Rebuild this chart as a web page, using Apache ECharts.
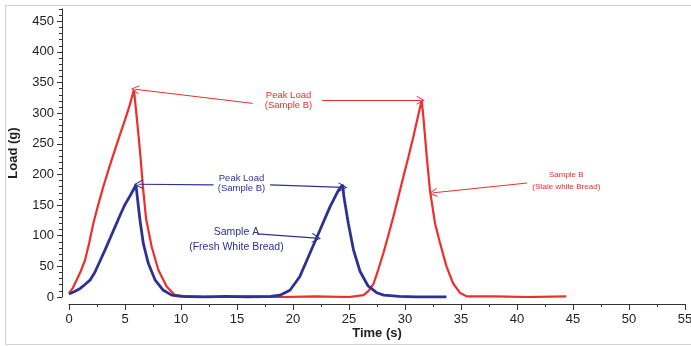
<!DOCTYPE html>
<html>
<head>
<meta charset="utf-8">
<script src="https://cdn.jsdelivr.net/npm/echarts@6/dist/echarts.min.js"></script>
<style>
  html, body { margin: 0; padding: 0; background: #fff; overflow: hidden; }
  #wrap { position: relative; width: 691px; height: 346px; }
  #chart { position: absolute; left: 0; top: 0; width: 691px; height: 346px; }
  #frame { position: absolute; left: 5px; top: 5px; width: 700px; height: 338px;
           border: 1px solid #d2d2d2; pointer-events: none; }
</style>
</head>
<body>
<div id="wrap">
  <div id="chart"></div>
  <div id="frame"></div>
</div>
<script>
// Sample A (fresh white bread)
const timeA = [0, 0.5, 1.0, 1.4, 1.9, 2.3, 2.8, 3.2, 3.7, 4.1, 4.6, 5.0, 5.45, 5.75, 5.98,
  6.1, 6.34, 6.64, 7.08, 7.68, 8.42, 9.17, 10.0, 12, 14, 16, 18, 18.84, 19.73, 20.6, 21.5,
  22.4, 23.3, 24.05, 24.43, 24.55, 24.94, 25.4, 25.98, 26.7, 27.47, 28.1, 29.5, 31, 33.7];
const loadA = [5, 9, 14, 20, 28, 40, 60, 76, 97, 114, 135, 151, 165, 175, 183,
  163, 125, 87, 55, 28, 11, 3, 1, 0, 1, 0, 1, 3, 11, 33, 71,
  109, 147, 174, 183, 163, 120, 77, 42, 18, 7, 3, 1, 0, 0];

// Sample B (stale white bread)
const timeB = [0, 0.35, 0.69, 1.05, 1.43, 1.8, 2.17, 2.6, 3.06, 3.6, 4.1, 4.55, 5.0, 5.4, 5.8,
  6.0, 6.2, 6.4, 6.6, 6.88, 7.38, 7.98, 8.72, 9.46, 10.5, 13, 16, 19, 22, 25, 26.3,
  26.75, 27.2, 27.6, 28.06, 28.5, 28.96, 29.4, 29.85, 30.3, 30.74, 31.1, 31.49, 31.64, 31.94,
  32.23, 32.68, 33.1, 33.7, 34.3, 34.9, 35.5, 38, 41, 44.4];
const loadB = [6, 15, 28, 42, 60, 88, 120, 150, 180, 212, 240, 265, 289, 312, 338,
  302, 265, 225, 180, 128, 82, 44, 17, 3, 1, 0, 1, 0, 1, 0, 3,
  10, 22, 44, 71, 100, 131, 163, 196, 228, 261, 290, 321, 294, 229,
  174, 120, 90, 50, 22, 7, 1, 1, 0, 1];

// annotations (data units)
const redPeakText = ['Peak Load', '(Sample B)'];
const redPeakTextAt = [19.6, 321];
const redPeakArrows = [[[16.4, 316], [5.9, 339]], [[22.6, 321], [31.4, 321]]];
const bluePeakText = ['Peak Load', '(Sample B)'];
const bluePeakTextAt = [15.4, 185];
const bluePeakArrows = [[[12.9, 183], [6.2, 184]], [[17.95, 183], [24.45, 179]]];
const sampleAText = ['Sample A', '(Fresh White Bread)'];
const sampleATextAt = [14.95, 94];
const sampleAArrow = [[16.8, 103], [22.1, 96]];
const sampleBText = ['Sample B', '(Stale white Bread)'];
const sampleBTextAt = [44.4, 189];
const sampleBArrow = [[40.9, 186], [32.5, 170]];

const RED = '#ec2f2b';
const BLUE = '#2e3192';
const chevron = 'path://M0,12 L6,0 L12,12 L10.6,12 L6,2.8 L1.4,12 Z';

const arrowLines = (list) => list.map(([a, b]) => [{ coord: a }, { coord: b }]);
const textPoint = (lines, at, color, size, lh) => ({
  coord: at,
  symbol: 'circle',
  symbolSize: 1,
  itemStyle: { color: 'rgba(0,0,0,0)' },
  label: {
    show: true,
    position: 'inside',
    formatter: lines.join('\n'),
    color: color,
    fontSize: size,
    lineHeight: lh,
    fontFamily: 'Liberation Sans, Arial, sans-serif',
  },
});

const chart = echarts.init(document.getElementById('chart'), null, { renderer: 'canvas' });

const axisFont = { color: '#222', fontSize: 13, fontFamily: 'Liberation Sans, Arial, sans-serif' };

const option = {
  animation: false,
  textStyle: { fontFamily: 'Liberation Sans, Arial, sans-serif' },
  grid: { left: 69, right: 6, top: 9, bottom: 49, containLabel: false, outerBoundsMode: 'none' },
  xAxis: {
    type: 'value',
    min: 0,
    max: 55,
    interval: 5,
    position: 'bottom',
    offset: 7,
    name: 'Time (s)',
    nameLocation: 'middle',
    nameGap: 23,
    nameMoveOverlap: false,
    nameTextStyle: { ...axisFont, fontWeight: 'bold' },
    axisLine: { show: true, onZero: false, lineStyle: { color: '#333', width: 1 } },
    axisTick: { show: true, length: 6, lineStyle: { color: '#333' } },
    minorTick: { show: true, splitNumber: 2, length: 3, lineStyle: { color: '#333' } },
    axisLabel: { ...axisFont, margin: 9 },
    splitLine: { show: false },
  },
  yAxis: [
    {
      type: 'value',
      position: 'left',
      min: 0,
      max: 470,
      interval: 50,
      offset: 7,
      name: 'Load (g)',
      nameLocation: 'middle',
      nameGap: 42,
      nameTextStyle: { ...axisFont, fontWeight: 'bold' },
      axisLine: { show: true, onZero: false, lineStyle: { color: '#333', width: 1 } },
      axisTick: { show: true, length: 5, lineStyle: { color: '#333' } },
      axisLabel: { ...axisFont, margin: 8, showMaxLabel: false },
      splitLine: { show: false },
    },
    {
      type: 'value',
      position: 'left',
      min: 0,
      max: 470,
      interval: 10,
      offset: 7,
      axisLine: { show: false, onZero: false },
      axisTick: { show: true, length: 3, lineStyle: { color: '#333' } },
      axisLabel: { show: false },
      splitLine: { show: false },
    },
  ],
  series: [
    {
      name: 'Sample B',
      type: 'line',
      showSymbol: false,
      data: timeB.map((t, i) => [t, loadB[i]]),
      lineStyle: { color: RED, width: 2.2 },
      itemStyle: { color: RED },
      markLine: {
        silent: true,
        symbol: ['none', chevron],
        symbolSize: [9, 8],
        label: { show: false },
        lineStyle: { color: RED, width: 1, type: 'solid' },
        data: arrowLines([...redPeakArrows, sampleBArrow]),
      },
      markPoint: {
        silent: true,
        data: [
          textPoint(redPeakText, redPeakTextAt, RED, 9.5, 10),
          textPoint(sampleBText, sampleBTextAt, RED, 8, 12),
        ],
      },
    },
    {
      name: 'Sample A',
      type: 'line',
      showSymbol: false,
      data: timeA.map((t, i) => [t, loadA[i]]),
      lineStyle: { color: BLUE, width: 2.8 },
      itemStyle: { color: BLUE },
      markLine: {
        silent: true,
        symbol: ['none', chevron],
        symbolSize: [10, 9],
        label: { show: false },
        lineStyle: { color: BLUE, width: 1.2, type: 'solid' },
        data: arrowLines([...bluePeakArrows, sampleAArrow]),
      },
      markPoint: {
        silent: true,
        data: [
          textPoint(bluePeakText, bluePeakTextAt, BLUE, 9.5, 10),
          textPoint(sampleAText, sampleATextAt, BLUE, 10.5, 15),
        ],
      },
    },
  ],
};

chart.setOption(option);
</script>
</body>
</html>
